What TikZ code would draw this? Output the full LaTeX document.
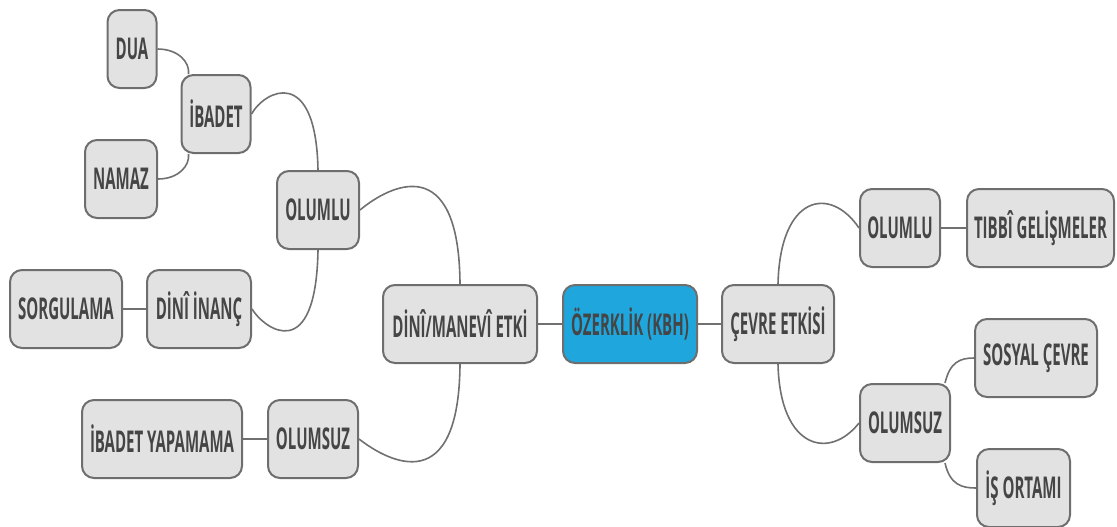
\documentclass[tikz,border=0pt]{standalone}
\usepackage{fontspec}
\setmainfont{Open Sans}[FakeStretch=0.5]
\usetikzlibrary{backgrounds}
\definecolor{boxfill}{HTML}{E2E2E2}
\definecolor{boxline}{HTML}{6E6E6E}
\definecolor{txt}{HTML}{454545}
\definecolor{rootfill}{HTML}{1FA7DD}
\definecolor{conn}{HTML}{707070}
\tikzset{
  box/.style={draw=boxline, fill=boxfill, line width=1pt, rounded corners=6pt,
    minimum height=39pt, inner sep=0pt, text=txt,
    font=\fontsize{15}{17}\selectfont\bfseries},
  rootbox/.style={box, fill=rootfill},
  link/.style={draw=conn, line width=0.8pt}
}
\begin{document}
\begin{tikzpicture}[x=0.5pt, y=-0.5pt]
\useasboundingbox (0,0) rectangle (1117,526);
% center
\node[rootbox, minimum width=67pt] (root) at (630,324) {ÖZERKLİK (KBH)};
\node[box, minimum width=77pt] (dme) at (460,324) {DİNÎ/MANEVÎ ETKİ};
\node[box, minimum width=56pt] (ce) at (778,324) {ÇEVRE ETKİSİ};
% left
\node[box, minimum width=41pt] (olL) at (318,210) {OLUMLU};
\node[box, minimum width=45pt] (osL) at (313,439) {OLUMSUZ};
\node[box, minimum width=34.5pt] (ib) at (216,114) {İBADET};
\node[box, minimum width=24.5pt] (dua) at (132,49) {DUA};
\node[box, minimum width=36pt] (nam) at (121,179) {NAMAZ};
\node[box, minimum width=52pt] (di) at (199,309) {DİNÎ İNANÇ};
\node[box, minimum width=56pt] (sor) at (66,309) {SORGULAMA};
\node[box, minimum width=80pt] (iy) at (162,439) {İBADET YAPAMAMA};
% right
\node[box, minimum width=40pt] (olR) at (900,228) {OLUMLU};
\node[box, minimum width=73.5pt] (tib) at (1040.5,228) {TIBBÎ GELİŞMELER};
\node[box, minimum width=45pt] (osR) at (905,423) {OLUMSUZ};
\node[box, minimum width=61pt] (sos) at (1036,358) {SOSYAL ÇEVRE};
\node[box, minimum width=46.5pt] (is) at (1023.5,488) {İŞ ORTAMI};
\begin{scope}[on background layer]
\draw[link] (dme) -- (root);
\draw[link] (root) -- (ce);
\draw[link] (olL.east) .. controls (390,185) and (459,150) .. (dme.north);
\draw[link] (osL.east) .. controls (390,463) and (459,498) .. (dme.south);
\draw[link] (ib.east) .. controls (265,90) and (316,65) .. (olL.north);
\draw[link] (di.east) .. controls (265,330) and (316,365) .. (olL.south);
\draw[link] (dua.east) .. controls (178,49) and (190,62) .. ([xshift=4pt]ib.north west);
\draw[link] (nam.east) .. controls (178,179) and (190,166) .. ([xshift=4pt]ib.south west);
\draw[link] (sor) -- (di);
\draw[link] (iy) -- (osL);
\draw[link] (ce.north) .. controls (780,195) and (830,185) .. (olR.west);
\draw[link] (ce.south) .. controls (780,450) and (830,460) .. (osR.west);
\draw[link] (olR) -- (tib);
\draw[link] ([xshift=-3pt]osR.north east) .. controls (950,362) and (960,358) .. (sos.west);
\draw[link] ([xshift=-3pt]osR.south east) .. controls (950,485) and (962,488) .. (is.west);
\end{scope}
\end{tikzpicture}
\end{document}
